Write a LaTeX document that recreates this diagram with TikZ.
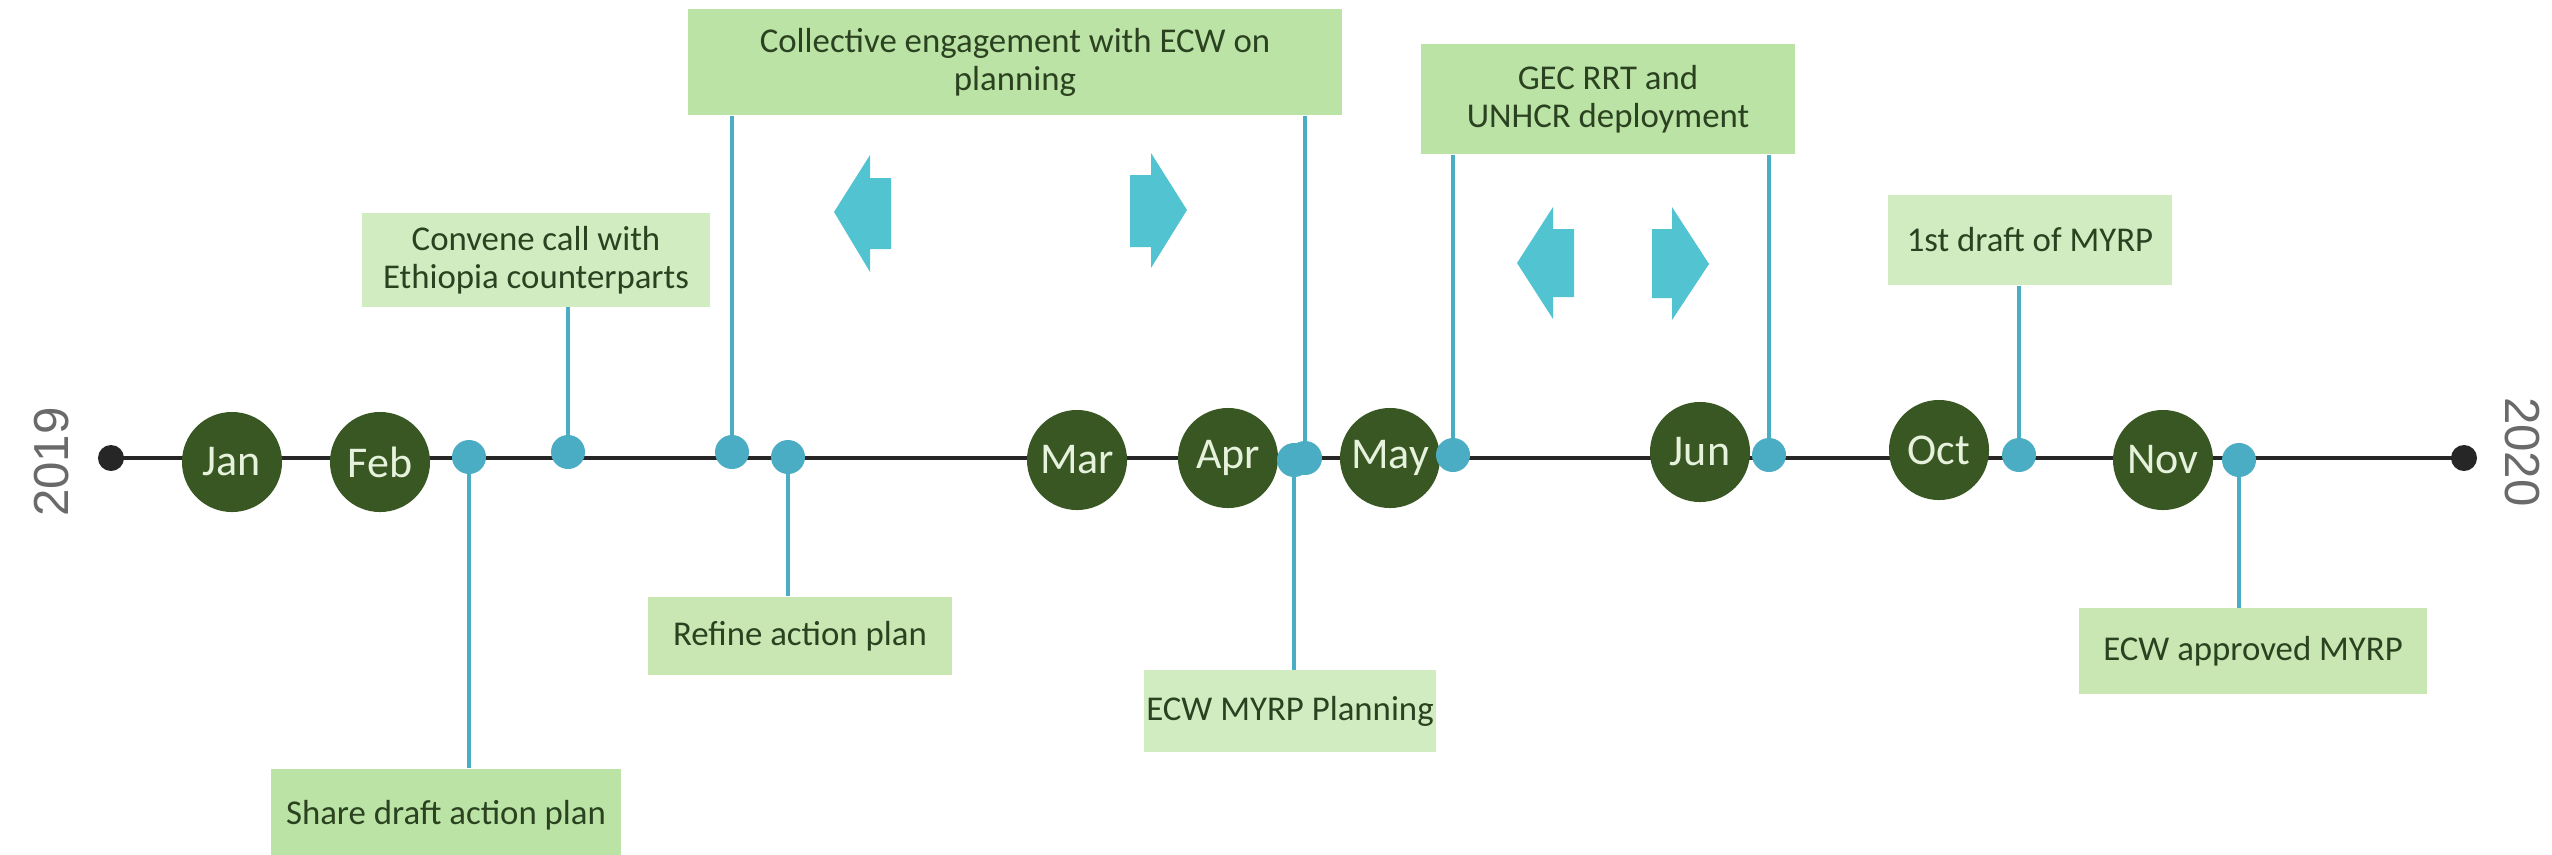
\documentclass[tikz,border=0pt]{standalone}
\usepackage{fontspec}
\setmainfont{Carlito}
\newfontfamily\yearfont{Liberation Sans}
\definecolor{boxA}{HTML}{BCE3A6}
\definecolor{boxM}{HTML}{C8E7B2}
\definecolor{boxB}{HTML}{D1ECC1}
\definecolor{txt}{HTML}{2B4221}
\definecolor{mgreen}{HTML}{385723}
\definecolor{mtext}{HTML}{E6F2DC}
\definecolor{dotblue}{HTML}{4AADC4}
\definecolor{arrowcyan}{HTML}{52C3D1}
\definecolor{linegray}{HTML}{262626}
\definecolor{yeargray}{HTML}{6A6A6A}
\pgfdeclarelayer{bg}
\pgfsetlayers{bg,main}
\begin{document}
\begin{tikzpicture}[x=0.01cm,y=-0.01cm,
  boxstyle/.style={rectangle, fill=boxA, inner sep=0pt, text=txt, align=center, font=\fontsize{9.9}{10.8}\selectfont},
  month/.style={circle, fill=mgreen, minimum size=1.0cm, inner sep=0pt, text=mtext, font=\fontsize{12.5}{14}\selectfont},
  evdot/.style={circle, fill=dotblue, minimum size=0.34cm, inner sep=0pt},
  enddot/.style={circle, fill=linegray, minimum size=0.26cm, inner sep=0pt},
  conn/.style={draw=dotblue, line width=1.1pt},
  tline/.style={draw=linegray, line width=1.2pt},
  chev/.style={fill=arrowcyan},
  year/.style={text=yeargray, font=\yearfont\fontsize{14}{16}\selectfont}
]
\useasboundingbox (0,0) rectangle (2552,854);

% end points and years
\node[enddot] (e1) at (111,458) {};
\node[enddot] (e2) at (2464,458) {};
\node[year, rotate=90] (y1) at (52,462) {2019};
\node[year, rotate=-90] (y2) at (2522,452) {2020};

% boxes
\node[boxstyle, fill=boxA, minimum width=6.54cm, minimum height=1.06cm] (bcoll) at (1015,62) {Collective engagement with ECW on\\planning};
\node[boxstyle, fill=boxA, minimum width=3.73cm, minimum height=1.10cm] (bgec) at (1608,99) {GEC RRT and\\UNHCR deployment};
\node[boxstyle, fill=boxB, minimum width=3.48cm, minimum height=0.93cm] (bconv) at (536,260) {Convene call with\\Ethiopia counterparts};
\node[boxstyle, fill=boxB, minimum width=2.83cm, minimum height=0.90cm] (bfirst) at (2030,240) {1st draft of MYRP};
\node[boxstyle, fill=boxM, minimum width=3.04cm, minimum height=0.78cm] (bref) at (800,636) {Refine action plan};
\node[boxstyle, fill=boxA, minimum width=3.49cm, minimum height=0.92cm] (bshare) at (446,815) {Share draft action plan};
\node[boxstyle, fill=boxB, minimum width=2.92cm, minimum height=0.81cm] (bplan) at (1290,711) {ECW MYRP Planning};
\node[boxstyle, fill=boxM, minimum width=3.47cm, minimum height=0.85cm] (bappr) at (2253,651) {ECW approved MYRP};

% month circles
\node[month] (jan) at (232,462) {Jan};
\node[month] (feb) at (380,462) {Feb};
\node[month] (mar) at (1077,460) {Mar};
\node[month] (apr) at (1228,458) {Apr};
\node[month] (may) at (1390,458) {May};
\node[month] (jun) at (1700,452) {Jun};
\node[month] (oct) at (1939,450) {Oct};
\node[month] (nov) at (2163,460) {Nov};

% event dots
\node[evdot] (d1) at (469,457) {};
\node[evdot] (d2) at (568,452) {};
\node[evdot] (d3) at (732,452) {};
\node[evdot] (d4) at (788,457) {};
\node[evdot] (d5) at (1294,460) {};
\node[evdot] (d6) at (1305,458) {};
\node[evdot] (d7) at (1453,455) {};
\node[evdot] (d8) at (1769,455) {};
\node[evdot] (d9) at (2019,455) {};
\node[evdot] (d10) at (2239,460) {};

\begin{pgfonlayer}{bg}
\draw[tline] (e1.center) -- (e2.center);
\draw[conn] (d1.center) -- (d1.center |- bshare.north);
\draw[conn] (d2.center) -- (d2.center |- bconv.south);
\draw[conn] (d3.center) -- (d3.center |- bcoll.south);
\draw[conn] (d4.center) -- (d4.center |- bref.north);
\draw[conn] (d5.center) -- (d5.center |- bplan.north);
\draw[conn] (d6.center) -- (d6.center |- bcoll.south);
\draw[conn] (d7.center) -- (d7.center |- bgec.south);
\draw[conn] (d8.center) -- (d8.center |- bgec.south);
\draw[conn] (d9.center) -- (d9.center |- bfirst.south);
\draw[conn] (d10.center) -- (d10.center |- bappr.north);
\end{pgfonlayer}

% chevron arrows
\fill[chev] (834,212) -- (870,155) -- (870,178) -- (891,178) -- (891,249) -- (870,249) -- (870,272) -- cycle;
\fill[chev] (1130,175) -- (1151,175) -- (1151,153) -- (1187,210) -- (1151,268) -- (1151,247) -- (1130,247) -- cycle;
\fill[chev] (1517,263) -- (1553,207) -- (1553,229) -- (1574,229) -- (1574,297) -- (1553,297) -- (1553,319) -- cycle;
\fill[chev] (1652,229) -- (1672,229) -- (1672,207) -- (1709,264) -- (1672,320) -- (1672,298) -- (1652,298) -- cycle;
\end{tikzpicture}
\end{document}
